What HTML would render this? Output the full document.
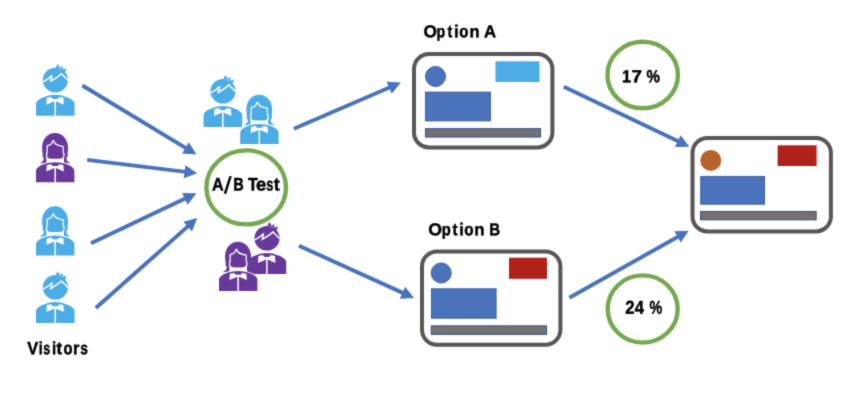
<!DOCTYPE html>
<html><head><meta charset="utf-8"><style>
html,body{margin:0;padding:0;background:#fff;}
.wrap{width:850px;height:413px;will-change:transform;background:transparent;}
svg{display:block;will-change:transform;}
text{font-family:"Liberation Sans",sans-serif;font-weight:bold;fill:#000;text-rendering:geometricPrecision;white-space:pre;}
</style></head><body><div class="wrap">
<svg width="850" height="413" viewBox="0 0 850 413">
<defs><filter id="bl" filterUnits="userSpaceOnUse" x="0" y="0" width="850" height="413" color-interpolation-filters="sRGB"><feConvolveMatrix order="3" kernelMatrix="0.0367 0.1915 0.0367 0.1915 1 0.1915 0.0367 0.1915 0.0367" edgeMode="duplicate"/></filter>
<g id="male">
 <path d="M19.6,4.4 L21.5,0.1 L24.3,3.8 Z M23.2,4.2 L26.9,2.1 L26.6,5.8 Z M25.8,5.8 L30.4,4.4 L29,8.6 Z"/>
 <ellipse cx="19.4" cy="16.2" rx="12.6" ry="12.3"/>
 <path d="M7.2,17.9 C10,16.4 13.5,14.6 16.1,11.5 L14.7,17.4 C18.5,15.4 22.5,12.8 25.6,9.9 C27.5,12 29.5,14 31.9,16.6" fill="none" stroke="#fff" stroke-width="1.45" stroke-linejoin="miter"/>
 <path d="M0,52 V40.8 C0,39 0.6,37.8 1.6,36.9 C3.5,35.2 6.5,33.8 9.1,33 C12,31.8 15,31.1 19.3,31.0 C23.6,31.1 26.6,31.8 29.5,33 C32.1,33.8 35.1,35.2 37,36.9 C38,37.8 38.6,39 38.6,40.8 V52 Z"/>
 <path d="M10.8,34 L15.4,33.1 A3.8,2.1 0 0 0 23,33.1 L27.4,33.9 L27.8,40.9 L20,37.4 L20,52.5 L18.5,52.5 L18.5,37.4 L10.4,40.9 Z" fill="#fff"/>
</g>
<g id="female">
 <path d="M3.7,30.8 C5.6,29.6 7.7,28 7.7,26 C7.7,24.5 6.2,23.6 6.3,22.2 L6.9,21.2 C6.3,20 6.1,18 6.1,14.5 C6.3,6 12,0.2 19,0.2 C26,0.2 31.8,6 32,14.5 C32,18 31.8,20 31.3,21.2 L31.9,22.2 C32,23.6 30.5,24.5 30.5,26 C30.5,28 32.6,29.6 34.5,30.8 L29,30 L10,30 Z"/>
 <path d="M10.4,31 L10.5,20 L27.9,20 L28,31 Z" fill="#fff"/>
 <path d="M11.8,13.4 C14.5,12.9 16.6,11.8 17.3,8.4 C18,11.5 20.5,13.2 26.6,14.1 L26.6,20.4 L27.4,21 L27.2,23.6 C27.2,25.4 25,25.9 22,25.9 L16.4,25.9 C13.4,25.9 11.2,25.4 11.2,23.6 L11.1,21 L11.8,20.4 Z" stroke="#fff" stroke-width="2.5" stroke-linejoin="round" paint-order="stroke"/>
 <path d="M0,49.5 V38.8 C0,37 0.6,35.8 1.6,34.9 C3.5,33.2 6.5,31.8 9.1,31 C12,30 15,29.5 19.2,29.4 C23.4,29.5 26.4,30 29.3,31 C31.9,31.8 34.9,33.2 36.8,34.9 C37.8,35.8 38.4,37 38.4,38.8 V49.5 Z" stroke="#fff" stroke-width="1.8" paint-order="stroke"/>
 <path d="M10.8,32.3 L15.4,31.4 A3.8,1.9 0 0 0 23,31.4 L27.4,32.2 L27.8,38.6 L19.9,35.3 L19.9,50.5 L18.4,50.5 L18.4,35.3 L10.4,38.6 Z" fill="#fff"/>
</g></defs>
<g filter="url(#bl)">
<rect width="850" height="413" fill="#fff"/>

<rect x="414" y="54" width="138.4" height="93.4" rx="15" ry="15" fill="#fff" stroke="#575757" stroke-width="4"/><circle cx="435.5" cy="76.5" r="10.05" fill="#4A73BC" stroke="#385A9A" stroke-width="0.9"/><rect x="425.4" y="92.10000000000001" width="65.00" height="28.80" fill="#4A73BC" stroke="#385C9E" stroke-width="0.9"/><rect x="425.5" y="128.7" width="115.00" height="8.30" fill="#767171" stroke="#2F5597" stroke-width="1.1"/><rect x="495.5" y="61.3" width="44.00" height="20.70" fill="#4BACE6"/><rect x="422" y="251.4" width="138.4" height="93.4" rx="15" ry="15" fill="#fff" stroke="#575757" stroke-width="4"/><circle cx="441.2" cy="273" r="10.05" fill="#4A73BC" stroke="#385A9A" stroke-width="0.9"/><rect x="431.4" y="288.79999999999995" width="64.70" height="29.40" fill="#4A73BC" stroke="#385C9E" stroke-width="0.9"/><rect x="431.3" y="325.9" width="115.20" height="8.40" fill="#767171" stroke="#2F5597" stroke-width="1.1"/><rect x="509" y="257.7" width="38.00" height="21.10" fill="#AF2119"/><rect x="692.5" y="138" width="138.4" height="93.4" rx="15" ry="15" fill="#fff" stroke="#575757" stroke-width="4"/><circle cx="710.8" cy="160.4" r="10.5" fill="#B8622C"/><rect x="700.6999999999999" y="176.4" width="63.90" height="27.80" fill="#4A73BC" stroke="#385C9E" stroke-width="0.9"/><rect x="700.6" y="211.5" width="115.50" height="8.30" fill="#767171" stroke="#2F5597" stroke-width="1.1"/><rect x="777.6" y="145.3" width="39.00" height="20.70" fill="#AF2119"/><ellipse cx="642.7" cy="75" rx="35.199999999999996" ry="33.3" fill="none" stroke="#76A852" stroke-width="4.4"/><ellipse cx="642.7" cy="309" rx="35.0" ry="33.599999999999994" fill="none" stroke="#76A852" stroke-width="4.4"/><ellipse cx="246.2" cy="187.4" rx="39.8" ry="37.0" fill="none" stroke="#76A852" stroke-width="4.4"/><line x1="82.40" y1="85.50" x2="186.33" y2="148.35" stroke="#4A73BC" stroke-width="3.9"/><polygon points="196.43,154.46 182.11,153.40 188.84,142.27" fill="#4A73BC"/><line x1="87.20" y1="159.90" x2="185.58" y2="171.84" stroke="#4A73BC" stroke-width="3.9"/><polygon points="197.30,173.26 183.81,178.17 185.37,165.27" fill="#4A73BC"/><line x1="91.00" y1="243.20" x2="185.79" y2="198.33" stroke="#4A73BC" stroke-width="3.9"/><polygon points="196.45,193.29 187.66,204.64 182.10,192.89" fill="#4A73BC"/><line x1="95.80" y1="308.00" x2="188.44" y2="225.89" stroke="#4A73BC" stroke-width="3.9"/><polygon points="197.27,218.07 192.01,231.42 183.38,221.69" fill="#4A73BC"/><line x1="293.90" y1="128.80" x2="390.03" y2="87.28" stroke="#4A73BC" stroke-width="3.9"/><polygon points="400.86,82.60 391.69,93.64 386.53,81.71" fill="#4A73BC"/><line x1="299.00" y1="245.75" x2="403.36" y2="293.13" stroke="#4A73BC" stroke-width="3.9"/><polygon points="414.11,298.01 399.76,298.63 405.14,286.80" fill="#4A73BC"/><line x1="563.85" y1="86.70" x2="678.70" y2="141.58" stroke="#4A73BC" stroke-width="3.9"/><polygon points="689.35,146.67 675.00,147.01 680.60,135.28" fill="#4A73BC"/><line x1="569.40" y1="297.70" x2="678.45" y2="236.43" stroke="#4A73BC" stroke-width="3.9"/><polygon points="688.74,230.66 680.76,242.59 674.39,231.26" fill="#4A73BC"/><use href="#male" transform="translate(36,63.8) scale(1.0)" fill="#4BACE6"/><use href="#female" transform="translate(36,132.8) scale(1.0)" fill="#67399A"/><use href="#female" transform="translate(36,206.1) scale(1.0)" fill="#4BACE6"/><use href="#male" transform="translate(36,271.1) scale(1.0)" fill="#4BACE6"/><use href="#male" transform="translate(203.6,75) scale(1.0)" fill="#4BACE6"/><use href="#female" transform="translate(240.2,94.6) scale(1.0)" fill="#4BACE6"/><use href="#male" transform="translate(247.6,222) scale(1.0)" fill="#67399A"/><use href="#female" transform="translate(219,241.5) scale(1.0)" fill="#67399A"/><g class="t" stroke="#000" stroke-width="0.45" stroke-linejoin="round"><text transform="translate(423.61,37.17) rotate(0.05) scale(1.007,1)" font-size="17.22">O</text><text transform="translate(436.59,37.17) rotate(0.05) scale(0.824,1)" font-size="17.22">p</text><text transform="translate(447.55,37.17) rotate(0.05) scale(0.837,1)" font-size="17.22">t</text><text transform="translate(454.03,37.17) rotate(0.05) scale(0.994,1)" font-size="17.22">i</text><text transform="translate(459.23,37.17) rotate(0.05) scale(0.877,1)" font-size="17.22">o</text><text transform="translate(469.54,37.17) rotate(0.05) scale(0.956,1)" font-size="17.22">n </text><text transform="translate(484.01,37.17) rotate(0.05) scale(0.974,1)" font-size="17.22">A</text></g><g class="t" stroke="#000" stroke-width="0.45" stroke-linejoin="round"><text transform="translate(428.15,235.18) rotate(0.05) scale(1.028,1)" font-size="17.22">O</text><text transform="translate(441.85,235.18) rotate(0.05) scale(0.858,1)" font-size="17.22">p</text><text transform="translate(452.54,235.18) rotate(0.05) scale(0.894,1)" font-size="17.22">t</text><text transform="translate(459.18,235.18) rotate(0.05) scale(0.952,1)" font-size="17.22">i</text><text transform="translate(464.13,235.18) rotate(0.05) scale(0.888,1)" font-size="17.22">o</text><text transform="translate(474.31,235.18) rotate(0.05) scale(0.980,1)" font-size="17.22">n </text><text transform="translate(489.22,235.18) rotate(0.05) scale(0.871,1)" font-size="17.22">B</text></g><g class="t" stroke="#000" stroke-width="0.45" stroke-linejoin="round"><text transform="translate(211.92,190.58) rotate(0.05) scale(0.887,1)" font-size="18.24">A</text></g><text transform="translate(224.10,193.27) rotate(0.05) scale(1.166,1)" font-size="23.15" style="font-weight:normal" stroke="#000" stroke-width="0.4">/</text><g class="t" stroke="#000" stroke-width="0.45" stroke-linejoin="round"><text transform="translate(233.15,190.58) rotate(0.05) scale(0.796,1)" font-size="18.24">B </text><text transform="translate(247.94,190.58) rotate(0.05) scale(0.880,1)" font-size="18.24">T</text><text transform="translate(255.91,190.58) rotate(0.05) scale(1.005,1)" font-size="18.24">e</text><text transform="translate(266.14,190.58) rotate(0.05) scale(0.700,1)" font-size="18.24">s</text><text transform="translate(273.81,190.58) rotate(0.05) scale(0.986,1)" font-size="18.24">t</text></g><g class="t" stroke="#000" stroke-width="0.45" stroke-linejoin="round"><text transform="translate(27.31,354.27) rotate(0.05) scale(0.924,1)" font-size="17.81">V</text><text transform="translate(38.83,354.27) rotate(0.05) scale(0.798,1)" font-size="17.81">i</text><text transform="translate(43.32,354.27) rotate(0.05) scale(0.700,1)" font-size="17.81">s</text><text transform="translate(51.88,354.27) rotate(0.05) scale(0.839,1)" font-size="17.81">i</text><text transform="translate(56.62,354.27) rotate(0.05) scale(0.937,1)" font-size="17.81">t</text><text transform="translate(63.45,354.27) rotate(0.05) scale(0.828,1)" font-size="17.81">o</text><text transform="translate(72.94,354.27) rotate(0.05) scale(0.921,1)" font-size="17.81">r</text><text transform="translate(80.24,354.27) rotate(0.05) scale(0.778,1)" font-size="17.81">s</text></g><g class="t" stroke="#000" stroke-width="0.45" stroke-linejoin="round"><text transform="translate(622.10,82.28) rotate(0.05) scale(0.923,1)" font-size="17.59">1</text><text transform="translate(631.41,82.28) rotate(0.05) scale(1.072,1)" font-size="17.59">7 </text><text transform="translate(646.55,82.28) rotate(0.05) scale(0.858,1)" font-size="17.59">%</text></g><g class="t" stroke="#000" stroke-width="0.45" stroke-linejoin="round"><text transform="translate(625.15,313.67) rotate(0.05) scale(0.902,1)" font-size="18.53">2</text><text transform="translate(634.77,313.67) rotate(0.05) scale(0.892,1)" font-size="18.53">4 </text><text transform="translate(649.47,313.67) rotate(0.05) scale(0.770,1)" font-size="18.53">%</text></g>
</g>
</svg></div>
</body></html>
